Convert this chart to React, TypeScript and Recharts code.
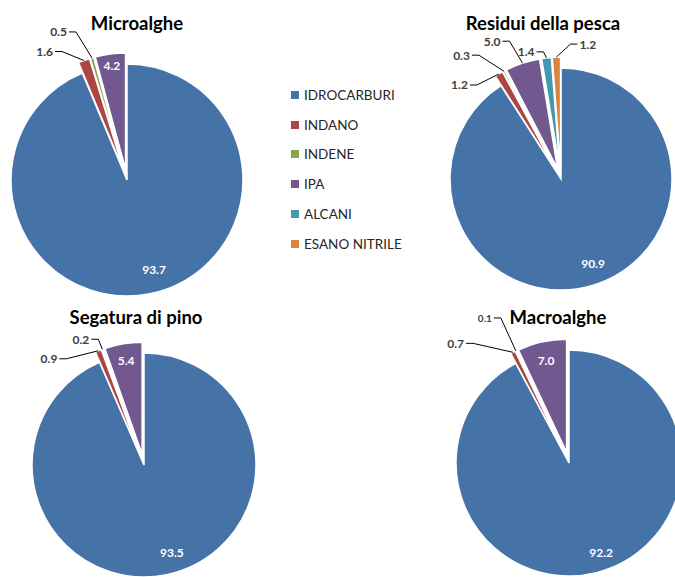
import React from 'react';
import { PieChart, Pie, Cell, Sector, Legend } from 'recharts';

const categories = ['IDROCARBURI', 'INDANO', 'INDENE', 'IPA', 'ALCANI', 'ESANO NITRILE'];
const colors = ['#4572A7', '#AA4643', '#89A54E', '#71588F', '#4198AF', '#DB843D'];

const microalgheValues = [93.7, 1.6, 0.5, 4.2];
const residuiValues = [90.9, 1.2, 0.3, 5.0, 1.4, 1.2];
const segaturaValues = [93.5, 0.9, 0.2, 5.4];
const macroalgheValues = [92.2, 0.7, 0.1, 7.0];

const titles = ['Microalghe', 'Residui della pesca', 'Segatura di pino', 'Macroalghe'];
const seriesValues = [microalgheValues, residuiValues, segaturaValues, macroalgheValues];

const FONT = 'Lato, "Open Sans", sans-serif';
const RAD = Math.PI / 180;
const EXPLODE = 11;

type LabelCfg = { inside?: boolean; frac?: number; shift?: number; dx?: number; dy?: number; small?: boolean };

const layouts: { cx: number; cy: number; r: number; titleX: number; titleY: number; labels: Record<number, LabelCfg> }[] = [
  {
    cx: 127, cy: 180, r: 116, titleX: 137, titleY: 23,
    labels: {
      0: { inside: true, frac: 0.81, shift: 5.4 },
      1: { dx: -29, dy: -9 },
      2: { dx: -23, dy: -26 },
      3: { inside: true, frac: 0.9, shift: 0 },
    },
  },
  {
    cx: 561, cy: 179, r: 111, titleX: 543, titleY: 23,
    labels: {
      0: { inside: true, frac: 0.81, shift: 4.5 },
      1: { dx: -29, dy: 11 },
      2: { dx: -32, dy: -16 },
      3: { dx: -20, dy: -22 },
      4: { dx: -10, dy: -6 },
      5: { dx: 21, dy: -13 },
    },
  },
  {
    cx: 144, cy: 465, r: 112, titleX: 136, titleY: 317,
    labels: {
      0: { inside: true, frac: 0.82, shift: 6 },
      1: { dx: -39, dy: 8 },
      2: { dx: -11, dy: -10 },
      3: { inside: true, frac: 0.85, shift: 0 },
    },
  },
  {
    cx: 569, cy: 463, r: 113, titleX: 558, titleY: 317,
    labels: {
      0: { inside: true, frac: 0.84, shift: 5.8 },
      1: { dx: -47, dy: -9 },
      2: { dx: -22, dy: -33, small: true },
      3: { inside: true, frac: 0.835, shift: 0 },
    },
  },
];

const explodedShape = (props: any) => {
  const { cx, cy, midAngle, index } = props;
  const idx = index ?? (props.payload && categories.indexOf(props.payload.name));
  const d = idx === 0 ? 0 : EXPLODE;
  const dx = d * Math.cos(-midAngle * RAD);
  const dy = d * Math.sin(-midAngle * RAD);
  return (
    <Sector
      cx={cx + dx}
      cy={cy + dy}
      innerRadius={props.innerRadius}
      outerRadius={props.outerRadius}
      startAngle={props.startAngle}
      endAngle={props.endAngle}
      fill={props.fill}
      stroke="#fff"
      strokeWidth={1.5}
    />
  );
};

const makeLabel = (cfg: Record<number, LabelCfg>) => (p: any) => {
  const { cx, cy, midAngle, outerRadius, index, value } = p;
  const c = cfg[index];
  if (!c) return null;
  const d = index === 0 ? 0 : EXPLODE;
  const ox = cx + d * Math.cos(-midAngle * RAD);
  const oy = cy + d * Math.sin(-midAngle * RAD);
  const text = Number(value).toFixed(1);
  if (c.inside) {
    const a = midAngle + (c.shift || 0);
    const x = ox + outerRadius * (c.frac || 0.8) * Math.cos(-a * RAD);
    const y = oy + outerRadius * (c.frac || 0.8) * Math.sin(-a * RAD);
    return (
      <text x={x} y={y} fill="#fff" textAnchor="middle" dominantBaseline="central"
        style={{ fontFamily: FONT, fontWeight: 700, fontSize: 12 }}>
        {text}
      </text>
    );
  }
  const ax = ox + outerRadius * Math.cos(-midAngle * RAD);
  const ay = oy + outerRadius * Math.sin(-midAngle * RAD);
  const lx = ax + (c.dx || 0);
  const ly = ay + (c.dy || 0);
  const side = (c.dx || 0) < 0 ? 1 : -1;
  const ex = lx + 7 * side;
  return (
    <g>
      <polyline points={`${lx},${ly} ${ex},${ly} ${ax},${ay}`} fill="none" stroke="#000" strokeWidth={1} />
      <text x={lx - 2 * side} y={ly} fill="#404040" textAnchor={side === 1 ? 'end' : 'start'} dominantBaseline="central"
        style={{ fontFamily: FONT, fontWeight: 700, fontSize: c.small ? 10 : 12 }}>
        {text}
      </text>
    </g>
  );
};

const LegendContent = () => (
  <div style={{ fontFamily: FONT, fontSize: 13.5, color: '#262626' }}>
    {categories.map((name, i) => (
      <div key={name} style={{ display: 'flex', alignItems: 'center', height: 29.8 }}>
        <span style={{ display: 'inline-block', width: 8, height: 8, background: colors[i], marginRight: 5 }} />
        <span>{name}</span>
      </div>
    ))}
  </div>
);

export default function App() {
  return (
    <div style={{ position: 'absolute', left: 0, top: 0, width: 675, height: 577, overflow: 'hidden', background: '#fff' }}>
      <PieChart width={675} height={577} margin={{ top: 0, right: 0, bottom: 0, left: 0 }}>
        {seriesValues.map((vals, k) => {
          const data = vals.map((v, i) => ({ name: categories[i], value: v }));
          const L = layouts[k];
          return (
            <Pie
              key={titles[k]}
              data={data}
              dataKey="value"
              nameKey="name"
              cx={L.cx}
              cy={L.cy}
              outerRadius={L.r}
              innerRadius={0}
              startAngle={90}
              endAngle={-270}
              stroke="#fff"
              strokeWidth={1.5}
              isAnimationActive={false}
              shape={explodedShape}
              label={makeLabel(L.labels)}
              labelLine={false}
              legendType={k === 1 ? 'square' : 'none'}
            >
              {data.map((d, i) => (
                <Cell key={d.name} fill={colors[i]} />
              ))}
            </Pie>
          );
        })}
        <Legend
          layout="vertical"
          align="right"
          verticalAlign="top"
          content={<LegendContent />}
          wrapperStyle={{ left: 291, top: 80, right: 'auto', width: 150 }}
        />
      </PieChart>
      {titles.map((t, k) => (
        <div
          key={t}
          style={{
            position: 'absolute',
            left: layouts[k].titleX - 150,
            top: layouts[k].titleY - 12,
            width: 300,
            height: 24,
            lineHeight: '24px',
            textAlign: 'center',
            fontFamily: FONT,
            fontWeight: 700,
            fontSize: 18.5,
            color: '#000',
            pointerEvents: 'none',
          }}
        >
          {t}
        </div>
      ))}
    </div>
  );
}
